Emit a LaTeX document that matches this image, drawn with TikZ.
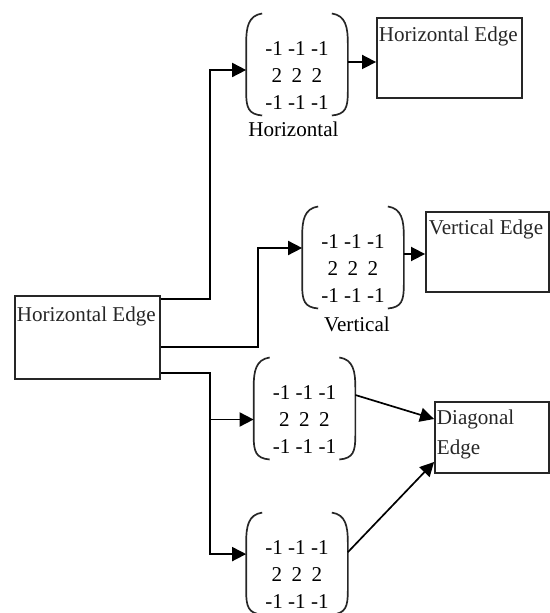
\documentclass[tikz,border=0pt]{standalone}
\usepackage{fontspec}
\setmainfont{Liberation Serif}
\usepackage{tikz}
\usetikzlibrary{calc}
\usetikzlibrary{positioning}
\usetikzlibrary{arrows.meta}

\newcommand{\maskrows}{-1 -1 -1\\2\hspace{.45em}2\hspace{.45em}2\\-1 -1 -1}

\begin{document}
\begin{tikzpicture}[->,>={Triangle[length=10pt,width=10pt]},line width=1.2pt,
	  font=\fontsize{15}{19.5}\selectfont,
	  result box/.style={rectangle,draw=black!85,line width=1.3pt,inner sep=0pt},
	  title/.style={inner sep=0pt,anchor=north west,align=left,text=black!85},
	  mask/.style={inner sep=0pt,minimum width=2.5cm,align=center},
	  bracket/.style={-,line width=1.2pt,draw=black!85}]

	  \useasboundingbox (0,0) rectangle (13.75,15.325);

	  \node[result box, minimum width=3.625cm, minimum height=2.075cm] (input) at (2.1875,6.8875) {};
	  \node[title] (inputtitle) at ([shift={(0.05cm,-0.275cm)}]input.north west) {Horizontal Edge};

	  \node[mask] (hmask) at (7.425,13.4375) {\maskrows};
	  \node[mask] (vmask) at (8.825,8.6125) {\maskrows};
	  \node[mask] (dmaska) at (7.6125,4.8375) {\maskrows};
	  \node[mask] (dmaskb) at (7.425,0.96) {\maskrows};
	  \node[below=0.25cm of hmask, inner sep=0pt, xshift=-0.09cm] (hname) {Horizontal};
	  \node[below=0.3cm of vmask, inner sep=0pt, xshift=0.1cm] (vname) {Vertical};

	  \node[result box, minimum width=3.625cm, minimum height=2cm] (hedge) at (11.2375,13.875) {};
	  \node[title] (hedgetitle) at ([shift={(0.05cm,-0.225cm)}]hedge.north west) {Horizontal Edge};
	  \node[result box, minimum width=3.075cm, minimum height=2cm] (vedge) at (12.1875,9.025) {};
	  \node[title] (vedgetitle) at ([shift={(0.075cm,-0.2cm)}]vedge.north west) {Vertical Edge};
	  \node[result box, minimum width=2.85cm, minimum height=1.775cm] (dedge) at (12.3,4.3875) {};
	  \node[title, font=\fontsize{15}{21}\selectfont] (dedgetitle) at ([shift={(0.05cm,-0.2cm)}]dedge.north west) {Diagonal\\Edge};

	  % round brackets of the masks
	  \foreach \m in {hmask,vmask,dmaska,dmaskb}{
	    \draw[bracket] ($(\m.west)+(0.4,1.55)$) .. controls ($(\m.west)+(0.05,1.5)$) and ($(\m.west)+(0,1.2)$) .. ($(\m.west)+(0,0.8)$)
	      -- ($(\m.west)+(0,-0.4)$) .. controls ($(\m.west)+(0,-0.8)$) and ($(\m.west)+(0.05,-0.97)$) .. ($(\m.west)+(0.4,-1)$);
	    \draw[bracket] ($(\m.east)+(-0.4,1.55)$) .. controls ($(\m.east)+(-0.05,1.5)$) and ($(\m.east)+(0,1.2)$) .. ($(\m.east)+(0,0.8)$)
	      -- ($(\m.east)+(0,-0.4)$) .. controls ($(\m.east)+(0,-0.8)$) and ($(\m.east)+(-0.05,-0.97)$) .. ($(\m.east)+(-0.4,-1)$);
	  }

	  \draw ([yshift=-0.1cm]input.north east) -- ++(1.225,0) |- ([yshift=0.1375cm]hmask.west);
	  \draw ([yshift=-0.2375cm]input.east) -- ++(2.425,0) |- ([yshift=0.5125cm]vmask.west);
	  \draw ([yshift=-0.8875cm]input.east) -- ++(1.225,0) coordinate (split) |- (dmaska.west);
	  \draw (split) |- ([yshift=0.5125cm]dmaskb.west);

	  \draw ([yshift=0.3375cm]hmask.east) -- ([yshift=-0.1cm]hedge.west);
	  \draw ([yshift=0.3625cm]vmask.east) -- ([yshift=-0.05cm]vedge.west);
	  \draw ([yshift=0.6125cm]dmaska.east) -- ([yshift=0.4625cm]dedge.west);
	  \draw ([yshift=0.56cm]dmaskb.east) -- ([yshift=-0.6125cm]dedge.west);
	\end{tikzpicture}
\end{document}
